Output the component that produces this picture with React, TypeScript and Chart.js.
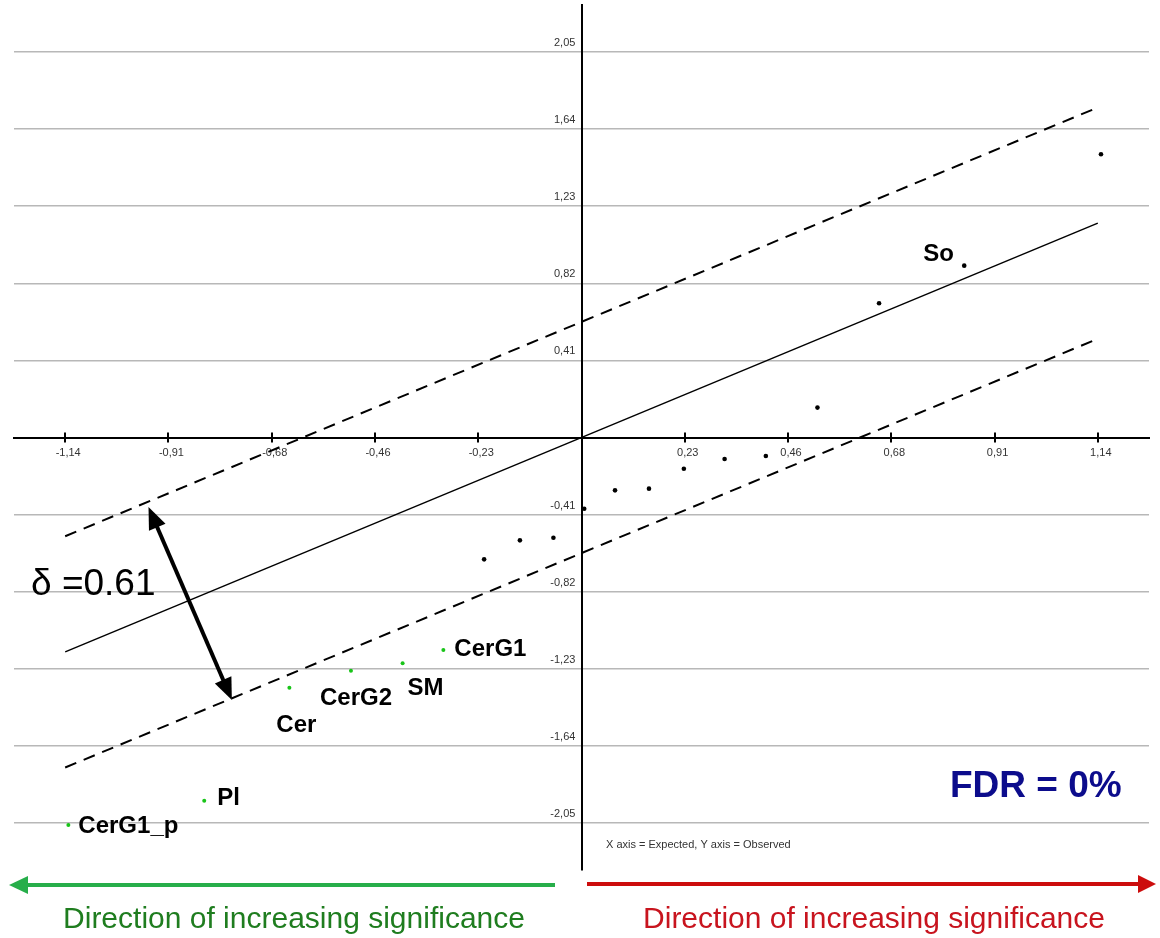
import React, { useEffect, useRef } from 'react';
import { Chart, registerables } from 'chart.js';

Chart.register(...registerables);

// ---- Data ----
const xTickValues = [-1.14, -0.912, -0.684, -0.456, -0.228, 0.228, 0.456, 0.684, 0.912, 1.14];
const xTickLabels = ['-1,14', '-0,91', '-0,68', '-0,46', '-0,23', '0,23', '0,46', '0,68', '0,91', '1,14'];
const yTickValues = [-2.05, -1.64, -1.23, -0.82, -0.41, 0.41, 0.82, 1.23, 1.64, 2.05];
const yTickLabels = ['-2,05', '-1,64', '-1,23', '-0,82', '-0,41', '0,41', '0,82', '1,23', '1,64', '2,05'];

// non-significant (black) features: expected (x) / observed (y)
const blackX = [1.147, 0.845, 0.657, 0.521, 0.407, 0.316, 0.226, 0.149, 0.074, 0.006, -0.062, -0.136, -0.215];
const blackY = [1.506, 0.914, 0.714, 0.159, -0.098, -0.114, -0.166, -0.272, -0.281, -0.379, -0.533, -0.547, -0.648];
const blackLabels = ['', 'So', '', '', '', '', '', '', '', '', '', '', ''];

// significant (green) features
const greenX = [-0.305, -0.395, -0.509, -0.645, -0.833, -1.133];
const greenY = [-1.130, -1.201, -1.240, -1.331, -1.932, -2.061];
const greenLabels = ['CerG1', 'SM', 'CerG2', 'Cer', 'Pl', 'CerG1_p'];

// reference lines
const lineX = [-1.14, 1.14];
const identityY = [-1.14, 1.14];
const upperY = [-0.525, 1.755];
const lowerY = [-1.755, 0.525];

const deltaText = 'δ =0.61';
const fdrText = 'FDR = 0%';
const axisNote = 'X axis = Expected, Y axis = Observed';
const directionText = 'Direction of increasing significance';

// label offsets (pixels, baseline) – styling only
const blackLabelOffsets = [[0, 0], [-41, -5], [0, 0], [0, 0], [0, 0], [0, 0], [0, 0], [0, 0], [0, 0], [0, 0], [0, 0], [0, 0], [0, 0]];
const greenLabelOffsets = [[11, 6], [5, 32], [-31, 34], [-13, 44], [13, 4], [10, 8]];

const FONT = '"Liberation Sans", Arial, sans-serif';

function toPts(xs: number[], ys: number[]) {
  return xs.map((x, i) => ({ x, y: ys[i] }));
}

function arrowHead(ctx: CanvasRenderingContext2D, tipX: number, tipY: number, fromX: number, fromY: number, len: number, half: number) {
  const ang = Math.atan2(tipY - fromY, tipX - fromX);
  const bx = tipX - len * Math.cos(ang);
  const by = tipY - len * Math.sin(ang);
  const px = -Math.sin(ang) * half;
  const py = Math.cos(ang) * half;
  ctx.beginPath();
  ctx.moveTo(tipX, tipY);
  ctx.lineTo(bx + px, by + py);
  ctx.lineTo(bx - px, by - py);
  ctx.closePath();
  ctx.fill();
}

const overlayPlugin = {
  id: 'samOverlay',
  afterDatasetsDraw(chart: any) {
    const ctx: CanvasRenderingContext2D = chart.ctx;
    const xs = chart.scales.x;
    const ys = chart.scales.y;
    const y0 = ys.getPixelForValue(0);
    ctx.save();

    // tick marks crossing the x axis
    ctx.strokeStyle = '#000';
    ctx.lineWidth = 2;
    xs.ticks.forEach((t: any) => {
      const px = Math.round(xs.getPixelForValue(t.value));
      ctx.beginPath();
      ctx.moveTo(px, y0 - 5);
      ctx.lineTo(px, y0 + 5);
      ctx.stroke();
    });

    // point labels
    ctx.fillStyle = '#000';
    ctx.font = `bold 24px ${FONT}`;
    ctx.textAlign = 'left';
    ctx.textBaseline = 'alphabetic';
    greenLabels.forEach((lab, i) => {
      if (!lab) return;
      const px = xs.getPixelForValue(greenX[i]);
      const py = ys.getPixelForValue(greenY[i]);
      ctx.fillText(lab, px + greenLabelOffsets[i][0], py + greenLabelOffsets[i][1]);
    });
    blackLabels.forEach((lab, i) => {
      if (!lab) return;
      const px = xs.getPixelForValue(blackX[i]);
      const py = ys.getPixelForValue(blackY[i]);
      ctx.fillText(lab, px + blackLabelOffsets[i][0], py + blackLabelOffsets[i][1]);
    });

    // delta double arrow
    const ax1 = xs.getPixelForValue(-0.956), ay1 = ys.getPixelForValue(-0.37);
    const ax2 = xs.getPixelForValue(-0.772), ay2 = ys.getPixelForValue(-1.396);
    const ang = Math.atan2(ay2 - ay1, ax2 - ax1);
    const inset = 16;
    ctx.strokeStyle = '#000';
    ctx.lineWidth = 4;
    ctx.beginPath();
    ctx.moveTo(ax1 + inset * Math.cos(ang), ay1 + inset * Math.sin(ang));
    ctx.lineTo(ax2 - inset * Math.cos(ang), ay2 - inset * Math.sin(ang));
    ctx.stroke();
    ctx.fillStyle = '#000';
    arrowHead(ctx, ax1, ay1, ax2, ay2, 22, 9);
    arrowHead(ctx, ax2, ay2, ax1, ay1, 22, 9);

    // delta text
    ctx.font = `37px ${FONT}`;
    ctx.fillText(deltaText, 31, 595);

    // FDR
    ctx.fillStyle = '#0c0c8c';
    ctx.font = `bold 37px ${FONT}`;
    ctx.fillText(fdrText, 950, 797);

    // axis note
    ctx.fillStyle = '#333';
    ctx.font = `11px ${FONT}`;
    ctx.fillText(axisNote, 606, 848);

    // bottom direction arrows
    ctx.lineWidth = 4;
    ctx.strokeStyle = '#27ae4a';
    ctx.fillStyle = '#27ae4a';
    ctx.beginPath();
    ctx.moveTo(24, 885);
    ctx.lineTo(555, 885);
    ctx.stroke();
    arrowHead(ctx, 9, 885, 555, 885, 19, 9);

    ctx.strokeStyle = '#cc0d0d';
    ctx.fillStyle = '#cc0d0d';
    ctx.beginPath();
    ctx.moveTo(587, 884);
    ctx.lineTo(1140, 884);
    ctx.stroke();
    arrowHead(ctx, 1156, 884, 587, 884, 18, 9);

    // bottom texts
    ctx.font = `30px ${FONT}`;
    ctx.textAlign = 'center';
    ctx.fillStyle = '#1f7d1f';
    ctx.fillText(directionText, 294, 928);
    ctx.fillStyle = '#c8141e';
    ctx.fillText(directionText, 874, 928);

    ctx.restore();
  },
};

export default function App() {
  const canvasRef = useRef<HTMLCanvasElement | null>(null);

  useEffect(() => {
    if (!canvasRef.current) return;
    const chart = new Chart(canvasRef.current, {
      type: 'scatter',
      data: {
        datasets: [
          {
            label: 'identity',
            data: toPts(lineX, identityY),
            showLine: true,
            borderColor: '#000',
            borderWidth: 1.5,
            pointRadius: 0,
          },
          {
            label: 'upper',
            data: toPts(lineX, upperY),
            showLine: true,
            borderColor: '#000',
            borderWidth: 2,
            borderDash: [12, 8],
            pointRadius: 0,
          },
          {
            label: 'lower',
            data: toPts(lineX, lowerY),
            showLine: true,
            borderColor: '#000',
            borderWidth: 2,
            borderDash: [12, 8],
            pointRadius: 0,
          },
          {
            label: 'non-significant',
            data: toPts(blackX, blackY),
            showLine: false,
            pointRadius: 2.3,
            pointBackgroundColor: '#000',
            pointBorderWidth: 0,
          },
          {
            label: 'significant',
            data: toPts(greenX, greenY),
            showLine: false,
            pointRadius: 2,
            pointBackgroundColor: '#19c419',
            pointBorderWidth: 0,
          },
        ],
      },
      options: {
        animation: false,
        responsive: false,
        layout: { padding: { left: 14, right: 11, top: 5, bottom: 68 } },
        plugins: { legend: { display: false }, tooltip: { enabled: false } },
        scales: {
          x: {
            type: 'linear',
            position: { y: 0 } as any,
            min: -1.253,
            max: 1.253,
            afterBuildTicks: (s: any) => {
              s.ticks = xTickValues.map((v) => ({ value: v }));
            },
            afterFit: (s: any) => {
              s.height = 0;
              s.paddingLeft = 0;
              s.paddingRight = 0;
              s.paddingTop = 0;
              s.paddingBottom = 0;
            },
            grid: { display: false, drawTicks: false },
            border: { display: true, color: '#000', width: 2 },
            ticks: {
              autoSkip: false,
              maxRotation: 0,
              padding: 9,
              labelOffset: 3,
              color: '#333',
              font: { family: FONT, size: 11 },
              callback: (_v: any, i: number) => xTickLabels[i],
            },
          },
          y: {
            type: 'linear',
            position: { x: 0 } as any,
            min: -2.3,
            max: 2.3,
            afterBuildTicks: (s: any) => {
              s.ticks = yTickValues.map((v) => ({ value: v }));
            },
            afterFit: (s: any) => {
              s.width = 0;
              s.paddingLeft = 0;
              s.paddingRight = 0;
              s.paddingTop = 0;
              s.paddingBottom = 0;
            },
            grid: { display: true, drawTicks: false, color: '#b8b8b8', lineWidth: 1.5 },
            border: { display: true, color: '#000', width: 2 },
            ticks: {
              autoSkip: false,
              padding: 7,
              labelOffset: -9,
              color: '#333',
              font: { family: FONT, size: 11 },
              // trailing spaces keep the right-aligned labels off the axis line
              callback: (_v: any, i: number) => yTickLabels[i] + '  ',
            },
          },
        },
      },
      plugins: [overlayPlugin],
    });
    return () => chart.destroy();
  }, []);

  return (
    <div style={{ position: 'absolute', left: 0, top: 0, width: 1160, height: 938, background: '#fff' }}>
      <canvas ref={canvasRef} width={1160} height={938} style={{ display: 'block' }} />
    </div>
  );
}
